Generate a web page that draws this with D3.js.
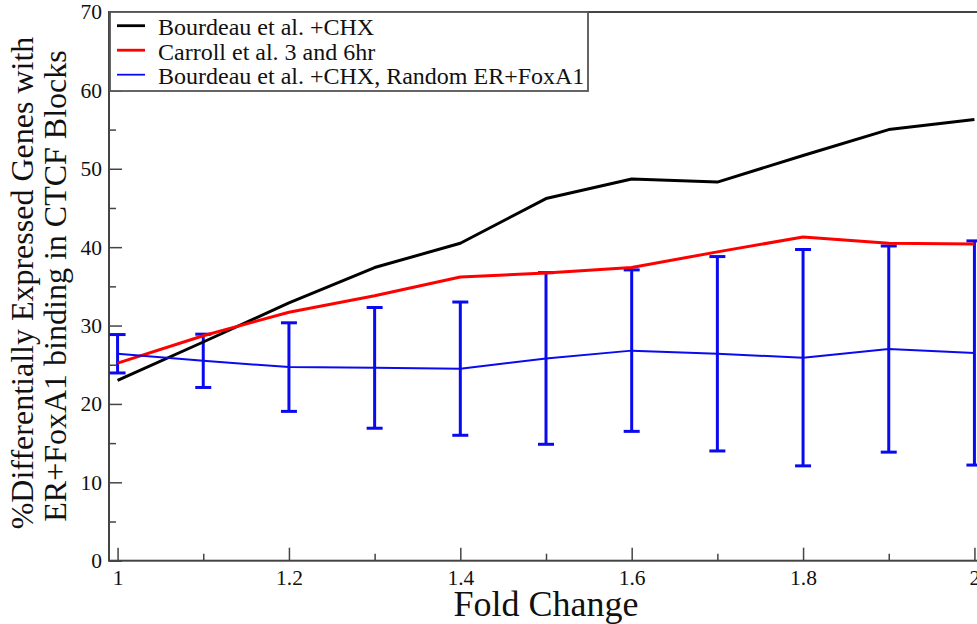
<!DOCTYPE html>
<html>
<head>
<meta charset="utf-8">
<script src="https://cdn.jsdelivr.net/npm/d3@7"></script>
<style>
  html, body { margin: 0; padding: 0; background: #fff; }
  svg { display: block; }
  text { font-family: "Liberation Serif", "Times New Roman", Times, serif; fill: #111; }
</style>
</head>
<body>
<svg id="chart" width="977" height="624"></svg>
<script>
// Fold-change thresholds along the x axis
const foldChange = [1.0, 1.1, 1.2, 1.3, 1.4, 1.5, 1.6, 1.7, 1.8, 1.9, 2.0];

// % of differentially expressed genes with ER+FoxA1 binding in CTCF blocks
const bourdeauCHX = [23.0, 27.9, 32.9, 37.4, 40.5, 46.2, 48.7, 48.3, 51.7, 55.0, 56.3];
const carroll3and6 = [25.2, 28.7, 31.7, 33.8, 36.2, 36.7, 37.4, 39.4, 41.3, 40.5, 40.4];
const randomMean = [26.4, 25.5, 24.7, 24.6, 24.5, 25.8, 26.8, 26.4, 25.9, 27.0, 26.5];
const randomErr = [2.45, 3.4, 5.65, 7.7, 8.5, 10.95, 10.3, 12.4, 13.8, 13.15, 14.3];

const seriesNames = [
  "Bourdeau et al. +CHX",
  "Carroll et al. 3 and 6hr",
  "Bourdeau et al. +CHX, Random ER+FoxA1"
];
const seriesColors = ["#000000", "#ff0000", "#0a0aee"];

const xMajor = [1, 1.2, 1.4, 1.6, 1.8, 2];
const xMinor = [1.1, 1.3, 1.5, 1.7, 1.9];
const yMajor = [0, 10, 20, 30, 40, 50, 60, 70];
const yMinor = [5, 15, 25, 35, 45, 55, 65];

const svg = d3.select("#chart");
const plotLeft = 109, plotRight = 983, plotTop = 12, plotBottom = 560.7;

const x = d3.scaleLinear().domain([0.99, 2.01]).range([plotLeft, plotRight]);
const y = d3.scaleLinear().domain([0, 70]).range([plotBottom, plotTop]);

// Axes with inward ticks
const gx = svg.append("g").attr("transform", `translate(0,${plotBottom})`)
  .call(d3.axisBottom(x).tickValues(xMajor).tickSize(-13).tickPadding(9.5)
    .tickFormat(d => String(+d.toFixed(1))));
gx.append("g").call(d3.axisBottom(x).tickValues(xMinor).tickSize(-7).tickFormat(""));

const gy = svg.append("g").attr("transform", `translate(${plotLeft},0)`)
  .call(d3.axisLeft(y).tickValues(yMajor).tickSize(-13).tickPadding(7));
gy.append("g").call(d3.axisLeft(y).tickValues(yMinor).tickSize(-7).tickFormat(""));

svg.selectAll(".domain").remove();
svg.selectAll(".tick line").attr("stroke", "#444").attr("stroke-width", 1.5);
svg.selectAll(".tick text").style("font-size", "21.5px")
  .style("font-family", "'Liberation Serif', 'Times New Roman', serif").attr("fill", "#111");

// Plot frame
svg.append("rect")
  .attr("x", plotLeft).attr("y", plotTop)
  .attr("width", plotRight - plotLeft).attr("height", plotBottom - plotTop)
  .attr("fill", "none").attr("stroke", "#444").attr("stroke-width", 2);

const line = d3.line().x((d, i) => x(foldChange[i])).y(d => y(d));

// Random-control error bars
const bars = svg.append("g").attr("stroke", seriesColors[2]).attr("stroke-width", 3);
foldChange.forEach((f, i) => {
  const cx = x(f), lo = y(randomMean[i] - randomErr[i]), hi = y(randomMean[i] + randomErr[i]);
  bars.append("line").attr("x1", cx).attr("x2", cx).attr("y1", lo).attr("y2", hi);
  bars.append("line").attr("x1", cx - 8).attr("x2", cx + 8).attr("y1", lo).attr("y2", lo);
  bars.append("line").attr("x1", cx - 8).attr("x2", cx + 8).attr("y1", hi).attr("y2", hi);
});

svg.append("path").datum(bourdeauCHX).attr("d", line)
  .attr("fill", "none").attr("stroke", seriesColors[0]).attr("stroke-width", 3)
  .attr("stroke-linejoin", "round");
svg.append("path").datum(carroll3and6).attr("d", line)
  .attr("fill", "none").attr("stroke", seriesColors[1]).attr("stroke-width", 3)
  .attr("stroke-linejoin", "round");
svg.append("path").datum(randomMean).attr("d", line)
  .attr("fill", "none").attr("stroke", seriesColors[2]).attr("stroke-width", 2)
  .attr("stroke-linejoin", "round");

// Legend
const legend = svg.append("g");
legend.append("rect").attr("x", 110).attr("y", 12).attr("width", 478).attr("height", 79)
  .attr("fill", "#fff").attr("stroke", "#555").attr("stroke-width", 1.8);
const widths = [2.8, 2.8, 1.8];
seriesNames.forEach((name, i) => {
  const ly = 25.7 + i * 24.5;
  legend.append("line").attr("x1", 117).attr("x2", 145).attr("y1", ly).attr("y2", ly)
    .attr("stroke", seriesColors[i]).attr("stroke-width", widths[i]);
  legend.append("text").attr("x", 158).attr("y", ly + 9.5)
    .style("font-size", "24px").text(name);
});

// Axis titles
svg.append("text").attr("x", (plotLeft + plotRight) / 2).attr("y", 616)
  .attr("text-anchor", "middle").style("font-size", "36px").text("Fold Change");

svg.append("text").attr("transform", "translate(33,283) rotate(-90)")
  .attr("text-anchor", "middle").style("font-size", "32px")
  .text("%Differentially Expressed Genes with");
svg.append("text").attr("transform", "translate(66,286) rotate(-90)")
  .attr("text-anchor", "middle").style("font-size", "32px")
  .text("ER+FoxA1 binding in CTCF Blocks");
</script>
</body>
</html>
